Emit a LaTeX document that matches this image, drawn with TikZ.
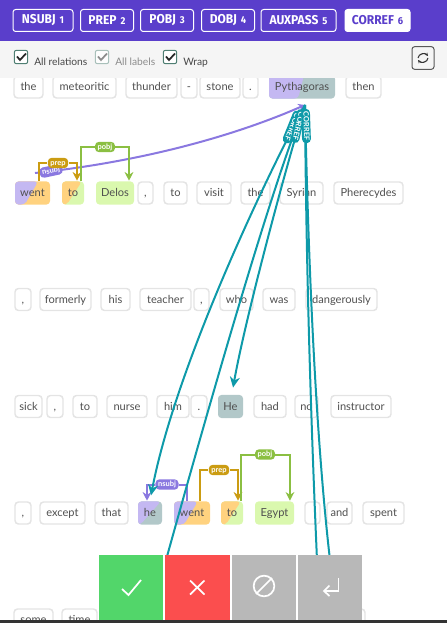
\documentclass[tikz,border=0pt]{standalone}
\usepackage{fontspec}
\setmainfont{Lato}
\newfontfamily\headfont{Fira Sans}
\usetikzlibrary{calc,arrows.meta,shapes.misc}
\definecolor{hdr}{HTML}{5A3ECB}
\definecolor{barbg}{HTML}{F5F5F5}
\definecolor{wtext}{HTML}{505050}
\definecolor{wedge}{HTML}{E4E4E4}
\definecolor{cpurple}{HTML}{C4B8F2}
\definecolor{corange}{HTML}{FFD27F}
\definecolor{cgreen}{HTML}{DAF8AE}
\definecolor{cteal}{HTML}{B2C8C9}
\definecolor{teal}{HTML}{0E9AA9}
\definecolor{lnsubj}{HTML}{8A78E0}
\definecolor{lprep}{HTML}{CB9C12}
\definecolor{lpobj}{HTML}{8BBF42}
\definecolor{okgreen}{HTML}{52D66A}
\definecolor{nored}{HTML}{FB4E4E}
\definecolor{skipgrey}{HTML}{B8B8B8}
\definecolor{darkbar}{HTML}{333333}
\definecolor{boxgreen}{HTML}{4F7F73}
\tikzset{
  word/.style={draw=wedge,line width=1.1pt,rounded corners=2.6pt,fill=white,text=wtext,
    font=\fontsize{8.3pt}{10pt}\selectfont,minimum height=16.5pt,inner sep=0pt,
    text height=6.7pt,text depth=1.1pt},
  solidw/.style={draw=none,fill=#1,minimum height=17.3pt},
  splitw/.style n args={4}{draw=none,fill=#2,minimum height=17.3pt,path picture={
    \fill[#1] (path picture bounding box.north west)
      -- ($(path picture bounding box.north west)!#3!(path picture bounding box.north east)$)
      -- ($(path picture bounding box.south west)!#4!(path picture bounding box.south east)$)
      -- (path picture bounding box.south west) -- cycle;}},
  pill/.style={rounded corners=3pt,fill=#1,text=white,inner xsep=2pt,inner ysep=1.4pt,
    font=\bfseries\fontsize{5.6pt}{5.6pt}\selectfont,text height=4.1pt,text depth=0.9pt},
  arcline/.style={draw=#1,line width=1.5pt},
  arcend/.style={draw=#1,line width=1.5pt,-{Stealth[length=6.5pt,width=6.5pt]}},
  corefline/.style={draw=teal,line width=1.5pt},
  corefarrow/.style={draw=teal,line width=1.5pt,-{Stealth[length=8pt,width=7.5pt]}},
  tab/.style={draw=white,line width=0.75pt,rounded corners=2pt,text=white,minimum height=16.5pt,inner sep=0pt,
    font=\headfont\bfseries\fontsize{9.6pt}{10pt}\selectfont},
  chk/.style={draw=#1,fill=white,line width=0.75pt,rounded corners=1.5pt,minimum size=10pt,inner sep=0pt},
  chkmark/.style={draw=#1,line width=1.3pt},
  optlabel/.style={font=\fontsize{7.7pt}{9pt}\selectfont,anchor=base west,inner sep=0pt},
  action/.style={draw=none,minimum height=49pt,inner sep=0pt},
  icon/.style={draw=white,line width=1.3pt},
}
% \wbox{name}{x1}{x2}{y}{options}{text}
\newcommand\wbox[6]{%
  \pgfmathsetmacro\wboxw{0.75*(#3-#2)}%
  \pgfmathsetmacro\wboxc{(#2+#3)/2}%
  \node[word,#5,minimum width=\wboxw pt] (#1) at (\wboxc,#4) {#6};}
\newcommand\tabnum[2]{\scalebox{0.94}[1]{#1\,\,\fontsize{7.5pt}{8pt}\selectfont #2}}
\begin{document}
\begin{tikzpicture}[x=0.75pt,y=-0.75pt]
\useasboundingbox (0,0) rectangle (447,623);
\clip (0,0) rectangle (447,623);
% row 1
\wbox{athe}{14}{43}{87}{}{the}
\wbox{ameteoritic}{53}{116}{87}{}{meteoritic}
\wbox{athunder}{126}{177}{87}{}{thunder}
\wbox{adash}{181}{197}{87}{}{-}
\wbox{astone}{200}{240}{87}{}{stone}
\wbox{adot}{243}{258}{87}{}{.}
\wbox{aPyth}{269}{335}{87}{splitw={cpurple}{cteal}{0.53}{0.44}}{Pythagoras}
\wbox{athen}{346}{381}{87}{}{then}
% row 2
\wbox{bwent}{15}{50}{193}{splitw={cpurple}{corange}{0.66}{0.28}}{went}
\wbox{bto}{62}{84}{193}{splitw={corange}{cgreen}{0.9}{0.22}}{to}
\wbox{bDelos}{96}{134}{193}{solidw=cgreen}{Delos}
\wbox{bcomma}{138}{153}{193}{}{,}
\wbox{bto2}{164}{187}{193}{}{to}
\wbox{bvisit}{197}{231}{193}{}{visit}
\wbox{bthe}{241}{270}{193}{}{the}
\wbox{bSyrian}{280}{323}{193}{}{Syrian}
\wbox{bPherecydes}{334}{403}{193}{}{Pherecydes}
% row 3
\wbox{ccomma}{15}{31}{299.5}{}{,}
\wbox{cformerly}{40}{91}{299.5}{}{formerly}
\wbox{chis}{101}{130}{299.5}{}{his}
\wbox{cteacher}{140}{191}{299.5}{}{teacher}
\wbox{ccomma2}{194}{209}{299.5}{}{,}
\wbox{cwho}{220}{253}{299.5}{}{who}
\wbox{cwas}{263}{295}{299.5}{}{was}
\wbox{cdangerously}{306}{377}{299.5}{}{dangerously}
% row 4
\wbox{dsick}{15}{42}{406.5}{}{sick}
\wbox{dcomma}{47}{63}{406.5}{}{,}
\wbox{dto}{73}{97}{406.5}{}{to}
\wbox{dnurse}{107}{147}{406.5}{}{nurse}
\wbox{dhim}{157}{189}{406.5}{}{him}
\wbox{ddot}{191}{207}{406.5}{}{.}
\wbox{dHe}{218}{243}{406.5}{solidw=cteal}{He}
\wbox{dhad}{254}{286}{406.5}{}{had}
\wbox{dno}{295}{318}{406.5}{}{no}
\wbox{dinstructor}{331}{391}{406.5}{}{instructor}
% row 5
\wbox{ecomma}{15}{31}{513}{}{,}
\wbox{eexcept}{40}{85}{513}{}{except}
\wbox{ethat}{95}{128}{513}{}{that}
\wbox{ehe}{138}{162}{513}{splitw={cpurple}{cteal}{0.95}{0.1}}{he}
\wbox{ewent}{174}{210}{513}{splitw={cpurple}{corange}{0.66}{0.28}}{went}
\wbox{eto}{221}{243}{513}{splitw={corange}{cgreen}{0.9}{0.22}}{to}
\wbox{eEgypt}{255}{294}{513}{solidw=cgreen}{Egypt}
\wbox{ecomma2}{305}{320}{513}{}{}
\wbox{eand}{327}{352}{513}{}{and}
\wbox{espent}{363}{404}{513}{}{spent}
% row 6
\wbox{fsome}{14}{53}{620}{}{some}
\wbox{ftime}{62}{97}{620}{}{time}
\wbox{fnext}{300}{365}{620}{}{}
% hub of the coreference links
\coordinate (hub) at (305,105);
\coordinate (wentend) at (166,560);
\coordinate (lowa) at (317,560);
\coordinate (lowb) at (330,560);
% row 2 relations
\draw[draw=lnsubj,line width=1.5pt,-{Stealth[length=5pt,width=6pt]}] (35,173) .. controls (130,163) and (225,140) .. (hub);
\node[pill=lnsubj,rotate=12] (bnsubj) at (51,171) {nsubj};
\node[pill=lprep] (bprep) at (58,163) {prep};
\draw[arcline=lprep] ([xshift=4.9pt]bwent.north) |- (bprep.west);
\draw[arcend=lprep] (bprep.east) -| ([xshift=3pt]bto.north);
\node[pill=lpobj] (bpobj) at (105,147) {pobj};
\draw[arcline=lpobj] ([xshift=6pt]bto.north) |- (bpobj.west);
\draw[arcend=lpobj] (bpobj.east) -| ([xshift=10.5pt]bDelos.north);
% row 5 relations
\node[pill=lnsubj] (ensubj) at (167,484.5) {nsubj};
\draw[arcline=lnsubj] ([xshift=-3.75pt]ewent.north) |- (ensubj.east);
\draw[arcend=lnsubj] (ensubj.west) -| ([xshift=-2.25pt]ehe.north);
\node[pill=lprep] (eprep) at (219,470) {prep};
\draw[arcline=lprep] ([xshift=6pt]ewent.north) |- (eprep.west);
\draw[arcend=lprep] (eprep.east) -| ([xshift=4.5pt]eto.north);
\node[pill=lpobj] (epobj) at (265,454.5) {pobj};
\draw[arcline=lpobj] ([xshift=6.75pt]eto.north) |- (epobj.west);
\draw[arcend=lpobj] (epobj.east) -| ([xshift=11.6pt]eEgypt.north);
% coreference links
\draw[corefarrow] (hub) .. controls (262,185) and (175,370) .. ([xshift=0.75pt,yshift=4pt]ehe.north);
\draw[corefline] (hub) .. controls (270,190) and (205,420) .. (wentend);
\draw[corefarrow] (hub) .. controls (285,170) and (245,320) .. ([xshift=1.9pt,yshift=5pt]dHe.north);
\draw[corefline] (hub) .. controls (306,250) and (310,400) .. (lowa);
\draw[corefline] (hub) .. controls (308,250) and (315,430) .. (lowb);
\node[pill=teal,rotate=-112,inner ysep=0.8pt] (c1) at (292,127) {CORREF};
\node[pill=teal,rotate=-103,inner ysep=0.8pt] (c2) at (298,126) {CORREF};
\node[pill=teal,rotate=-88,inner ysep=0.8pt] (c3) at (306,126) {CORREF};
% header
\fill[barbg] (0,41) rectangle (447,78);
\fill[hdr] (0,0) rectangle (447,41);
\node[tab,minimum width=45pt] (t1) at (43,20.5) {\tabnum{NSUBJ}{1}};
\node[tab,minimum width=39.75pt] (t2) at (107,20.5) {\tabnum{PREP}{2}};
\node[tab,minimum width=39.75pt] (t3) at (167,20.5) {\tabnum{POBJ}{3}};
\node[tab,minimum width=39.75pt] (t4) at (228,20.5) {\tabnum{DOBJ}{4}};
\node[tab,minimum width=56.25pt] (t5) at (298.5,20.5) {\tabnum{AUXPASS}{5}};
\node[tab,minimum width=48.75pt,fill=white,text=hdr] (t6) at (377.5,20.5) {\tabnum{CORREF}{6}};
% options
\node[chk=boxgreen] (ck1) at (21,57) {};
\draw[chkmark=black!85] (17,56.5) -- (20,60) -- (26,53.5);
\node[optlabel,text=black!72] (o1) at (34,66) {All relations};
\node[chk=boxgreen!60,opacity=0.8] (ck2) at (102,57) {};
\draw[chkmark=black!45] (98,56.5) -- (101,60) -- (107,53.5);
\node[optlabel,text=black!45] (o2) at (115,66) {All labels};
\node[chk=boxgreen] (ck3) at (170,57) {};
\draw[chkmark=black!85] (166,56.5) -- (169,60) -- (175,53.5);
\node[optlabel,text=black!72] (o3) at (183,66) {Wrap};
\node[draw=black!65,line width=0.75pt,rounded corners=2pt,minimum width=16.5pt,minimum height=17pt,inner sep=0pt] (refresh) at (423,58) {};
\draw[black!80,line width=0.8pt,-{Stealth[length=2.5pt,width=2.5pt]}] (418,58) .. controls (418.5,53.5) and (425,52.5) .. (428,56);
\draw[black!80,line width=0.8pt,-{Stealth[length=2.5pt,width=2.5pt]}] (428,58) .. controls (427.5,62.5) and (421,63.5) .. (418,60);
% action buttons
\node[action,fill=okgreen,minimum width=48pt] (ok) at (131,587.5) {};
\node[action,fill=nored,minimum width=48.75pt] (no) at (197.5,587.5) {};
\node[action,fill=skipgrey,minimum width=48pt] (skip) at (264,587.5) {};
\node[action,fill=skipgrey,minimum width=48pt] (ret) at (330,587.5) {};
\draw[icon] (122,589) -- (128.5,595) -- (141,580);
\draw[icon] (190,580.5) -- (204.5,594.5) (204.5,580.5) -- (190,594.5);
\node[draw=white,line width=1.3pt,circle,minimum size=15.5pt,inner sep=0pt] (skipicon) at (264,586) {};
\draw[icon] (skipicon.south west) -- (skipicon.north east);
\draw[icon] (338.5,578) -- (338.5,591) -- (324,591);
\draw[icon] (329.5,585.5) -- (324,591) -- (329.5,596);
\fill[darkbar] (0,620) rectangle (447,623);
\end{tikzpicture}
\end{document}
